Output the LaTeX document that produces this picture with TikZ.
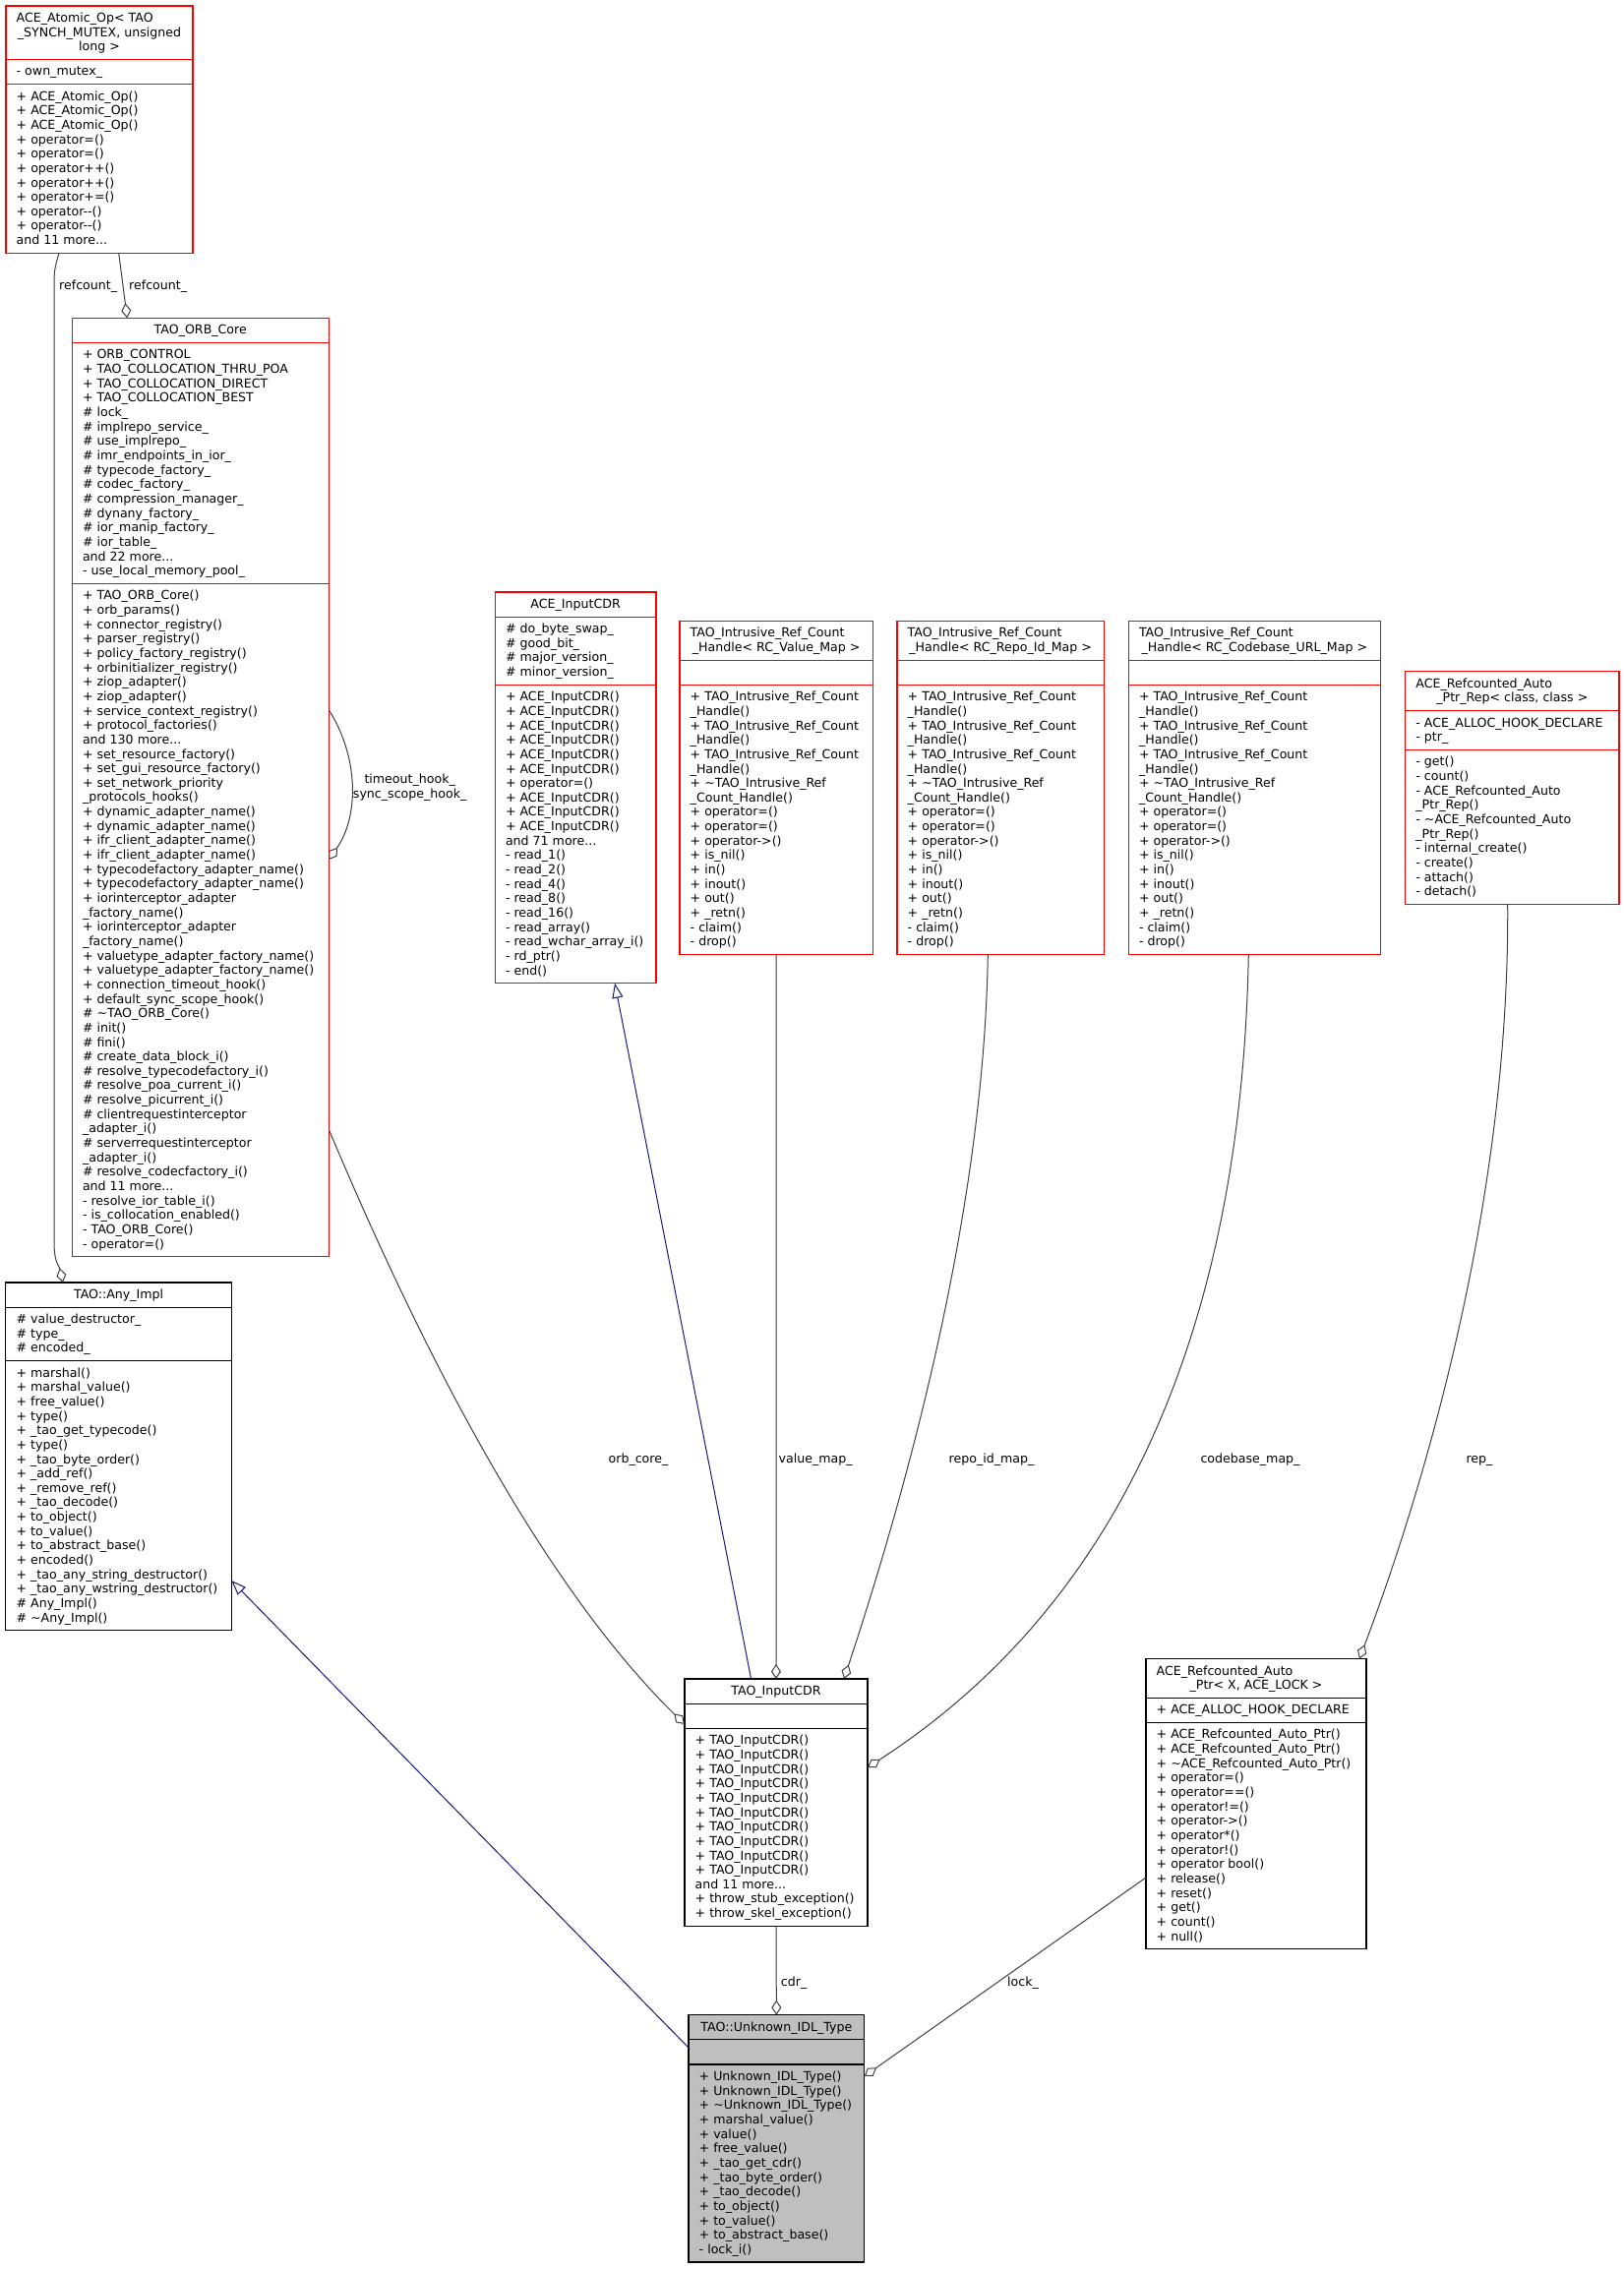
\documentclass[tikz,border=0pt]{standalone}
\usepackage{fontspec}
\setmainfont{DejaVu Sans}
\usetikzlibrary{arrows.meta}
\definecolor{edgegray}{HTML}{404040}
\definecolor{navyblue}{HTML}{191970}
\definecolor{unkfill}{HTML}{BFBFBF}
\newcommand\stt{\rule{0pt}{10pt}}
\newcommand\tl{\textasciitilde}
\tikzset{
  box/.style={draw, line width=1.1pt, inner sep=0pt, outer sep=0pt, anchor=north west, fill=white},
  redbox/.style={box, draw=red},
  blkbox/.style={box, draw=black},
  secline/.style={line width=1.1pt},
  sec/.style={anchor=north west, align=left, inner sep=0pt},
  ttl/.style={anchor=north, align=center, inner sep=0pt},
  agg/.style={draw=edgegray, line width=1pt, -{Diamond[open, length=15pt, width=10pt]}},
  inh/.style={draw=navyblue, line width=1pt, -{Triangle[open, length=15pt, width=11pt]}},
  lbl/.style={inner sep=0pt, anchor=base},
  lblw/.style={inner sep=0pt, anchor=base west},
}
\begin{document}
\begin{tikzpicture}[x=1pt, y=-1pt, font=\fontsize{12.6}{14.65}\selectfont]
\fill[white] (0,0) rectangle (1651,2307);
\useasboundingbox (0,0) rectangle (1651,2307);

% ---------- ACE_Atomic_Op ----------
\node[redbox, minimum width=190pt, minimum height=251.25pt] (atomic) at (6,6) {};
\draw[secline, red] (atomic.west |- 0,60.45) -- (atomic.east |- 0,60.45);
\draw[secline, red] (atomic.west |- 0,85.6) -- (atomic.east |- 0,85.6);
\node[sec] (atomic-t1) at (16.5,12.3) {\stt ACE\_Atomic\_Op< TAO};
\node[ttl] (atomic-t2) at (101,26.95) {\stt \_SYNCH\_MUTEX, unsigned\\long >};
\node[sec] (atomic-a) at (16.5,66.75) {\stt - own\_mutex\_};
\node[sec] (atomic-m) at (16.5,91.9) {\stt + ACE\_Atomic\_Op()\\+ ACE\_Atomic\_Op()\\+ ACE\_Atomic\_Op()\\+ operator=()\\+ operator=()\\+ operator++()\\+ operator++()\\+ operator+=()\\+ operator-{}-()\\+ operator-{}-()\\and 11 more...};

% ---------- TAO_ORB_Core ----------
\node[redbox, minimum width=261pt, minimum height=954.45pt] (orb) at (73.3,323.3) {};
\draw[secline, red] (orb.west |- 0,348.45) -- (orb.east |- 0,348.45);
\draw[secline, red] (orb.west |- 0,593.35) -- (orb.east |- 0,593.35);
\node[ttl] (orb-t) at (203.8,329.6) {\stt TAO\_ORB\_Core};
\node[sec] (orb-a) at (83.8,354.75) {\stt + ORB\_CONTROL\\+ TAO\_COLLOCATION\_THRU\_POA\\+ TAO\_COLLOCATION\_DIRECT\\+ TAO\_COLLOCATION\_BEST\\\# lock\_\\\# implrepo\_service\_\\\# use\_implrepo\_\\\# imr\_endpoints\_in\_ior\_\\\# typecode\_factory\_\\\# codec\_factory\_\\\# compression\_manager\_\\\# dynany\_factory\_\\\# ior\_manip\_factory\_\\\# ior\_table\_\\and 22 more...\\- use\_local\_memory\_pool\_};
\node[sec] (orb-m) at (83.8,599.65) {\stt + TAO\_ORB\_Core()\\+ orb\_params()\\+ connector\_registry()\\+ parser\_registry()\\+ policy\_factory\_registry()\\+ orbinitializer\_registry()\\+ ziop\_adapter()\\+ ziop\_adapter()\\+ service\_context\_registry()\\+ protocol\_factories()\\and 130 more...\\+ set\_resource\_factory()\\+ set\_gui\_resource\_factory()\\+ set\_network\_priority\\\_protocols\_hooks()\\+ dynamic\_adapter\_name()\\+ dynamic\_adapter\_name()\\+ ifr\_client\_adapter\_name()\\+ ifr\_client\_adapter\_name()\\+ typecodefactory\_adapter\_name()\\+ typecodefactory\_adapter\_name()\\+ iorinterceptor\_adapter\\\_factory\_name()\\+ iorinterceptor\_adapter\\\_factory\_name()\\+ valuetype\_adapter\_factory\_name()\\+ valuetype\_adapter\_factory\_name()\\+ connection\_timeout\_hook()\\+ default\_sync\_scope\_hook()\\\# \tl TAO\_ORB\_Core()\\\# init()\\\# fini()\\\# create\_data\_block\_i()\\\# resolve\_typecodefactory\_i()\\\# resolve\_poa\_current\_i()\\\# resolve\_picurrent\_i()\\\# clientrequestinterceptor\\\_adapter\_i()\\\# serverrequestinterceptor\\\_adapter\_i()\\\# resolve\_codecfactory\_i()\\and 11 more...\\- resolve\_ior\_table\_i()\\- is\_collocation\_enabled()\\- TAO\_ORB\_Core()\\- operator=()};

% ---------- ACE_InputCDR ----------
\node[redbox, minimum width=163.7pt, minimum height=397.75pt] (aceinput) at (503.3,602) {};
\draw[secline, red] (aceinput.west |- 0,627.15) -- (aceinput.east |- 0,627.15);
\draw[secline, red] (aceinput.west |- 0,696.25) -- (aceinput.east |- 0,696.25);
\node[ttl] (aceinput-t) at (585.15,608.3) {\stt ACE\_InputCDR};
\node[sec] (aceinput-a) at (513.8,633.45) {\stt \# do\_byte\_swap\_\\\# good\_bit\_\\\# major\_version\_\\\# minor\_version\_};
\node[sec] (aceinput-m) at (513.8,702.55) {\stt + ACE\_InputCDR()\\+ ACE\_InputCDR()\\+ ACE\_InputCDR()\\+ ACE\_InputCDR()\\+ ACE\_InputCDR()\\+ ACE\_InputCDR()\\+ operator=()\\+ ACE\_InputCDR()\\+ ACE\_InputCDR()\\+ ACE\_InputCDR()\\and 71 more...\\- read\_1()\\- read\_2()\\- read\_4()\\- read\_8()\\- read\_16()\\- read\_array()\\- read\_wchar\_array\_i()\\- rd\_ptr()\\- end()};

% ---------- TAO_Intrusive_Ref_Count_Handle< RC_Value_Map > ----------
\node[redbox, minimum width=196.3pt, minimum height=339.15pt] (value) at (691,631.3) {};
\draw[secline, red] (value.west |- 0,671.1) -- (value.east |- 0,671.1);
\draw[secline, red] (value.west |- 0,696.25) -- (value.east |- 0,696.25);
\node[sec] (value-t1) at (701.5,637.6) {\stt TAO\_Intrusive\_Ref\_Count};
\node[ttl] (value-t2) at (789.15,652.25) {\stt \_Handle< RC\_Value\_Map >};
\node[sec] (value-m) at (701.5,702.55) {\stt + TAO\_Intrusive\_Ref\_Count\\\_Handle()\\+ TAO\_Intrusive\_Ref\_Count\\\_Handle()\\+ TAO\_Intrusive\_Ref\_Count\\\_Handle()\\+ \tl TAO\_Intrusive\_Ref\\\_Count\_Handle()\\+ operator=()\\+ operator=()\\+ operator->()\\+ is\_nil()\\+ in()\\+ inout()\\+ out()\\+ \_retn()\\- claim()\\- drop()};

% ---------- TAO_Intrusive_Ref_Count_Handle< RC_Repo_Id_Map > ----------
\node[redbox, minimum width=210.3pt, minimum height=339.15pt] (repo) at (912,631.3) {};
\draw[secline, red] (repo.west |- 0,671.1) -- (repo.east |- 0,671.1);
\draw[secline, red] (repo.west |- 0,696.25) -- (repo.east |- 0,696.25);
\node[sec] (repo-t1) at (922.5,637.6) {\stt TAO\_Intrusive\_Ref\_Count};
\node[ttl] (repo-t2) at (1017.15,652.25) {\stt \_Handle< RC\_Repo\_Id\_Map >};
\node[sec] (repo-m) at (922.5,702.55) {\stt + TAO\_Intrusive\_Ref\_Count\\\_Handle()\\+ TAO\_Intrusive\_Ref\_Count\\\_Handle()\\+ TAO\_Intrusive\_Ref\_Count\\\_Handle()\\+ \tl TAO\_Intrusive\_Ref\\\_Count\_Handle()\\+ operator=()\\+ operator=()\\+ operator->()\\+ is\_nil()\\+ in()\\+ inout()\\+ out()\\+ \_retn()\\- claim()\\- drop()};

% ---------- TAO_Intrusive_Ref_Count_Handle< RC_Codebase_URL_Map > ----------
\node[redbox, minimum width=256pt, minimum height=339.15pt] (codebase) at (1147.3,631.3) {};
\draw[secline, red] (codebase.west |- 0,671.1) -- (codebase.east |- 0,671.1);
\draw[secline, red] (codebase.west |- 0,696.25) -- (codebase.east |- 0,696.25);
\node[sec] (codebase-t1) at (1157.8,637.6) {\stt TAO\_Intrusive\_Ref\_Count};
\node[ttl] (codebase-t2) at (1275.3,652.25) {\stt \_Handle< RC\_Codebase\_URL\_Map >};
\node[sec] (codebase-m) at (1157.8,702.55) {\stt + TAO\_Intrusive\_Ref\_Count\\\_Handle()\\+ TAO\_Intrusive\_Ref\_Count\\\_Handle()\\+ TAO\_Intrusive\_Ref\_Count\\\_Handle()\\+ \tl TAO\_Intrusive\_Ref\\\_Count\_Handle()\\+ operator=()\\+ operator=()\\+ operator->()\\+ is\_nil()\\+ in()\\+ inout()\\+ out()\\+ \_retn()\\- claim()\\- drop()};

% ---------- ACE_Refcounted_Auto_Ptr_Rep ----------
\node[redbox, minimum width=217.3pt, minimum height=236.6pt] (rep) at (1428.7,682.7) {};
\draw[secline, red] (rep.west |- 0,722.5) -- (rep.east |- 0,722.5);
\draw[secline, red] (rep.west |- 0,762.3) -- (rep.east |- 0,762.3);
\node[sec] (rep-t1) at (1439.2,689) {\stt ACE\_Refcounted\_Auto};
\node[ttl] (rep-t2) at (1537.35,703.65) {\stt \_Ptr\_Rep< class, class >};
\node[sec] (rep-a) at (1439.2,728.8) {\stt - ACE\_ALLOC\_HOOK\_DECLARE\\- ptr\_};
\node[sec] (rep-m) at (1439.2,768.6) {\stt - get()\\- count()\\- ACE\_Refcounted\_Auto\\\_Ptr\_Rep()\\- \tl ACE\_Refcounted\_Auto\\\_Ptr\_Rep()\\- internal\_create()\\- create()\\- attach()\\- detach()};

% ---------- TAO::Any_Impl ----------
\node[blkbox, minimum width=229.4pt, minimum height=353.8pt] (anyimpl) at (5.9,1304) {};
\draw[secline] (anyimpl.west |- 0,1329.15) -- (anyimpl.east |- 0,1329.15);
\draw[secline] (anyimpl.west |- 0,1383.6) -- (anyimpl.east |- 0,1383.6);
\node[ttl] (anyimpl-t) at (120.6,1310.3) {\stt TAO::Any\_Impl};
\node[sec] (anyimpl-a) at (16.4,1335.45) {\stt \# value\_destructor\_\\\# type\_\\\# encoded\_};
\node[sec] (anyimpl-m) at (16.4,1389.9) {\stt + marshal()\\+ marshal\_value()\\+ free\_value()\\+ type()\\+ \_tao\_get\_typecode()\\+ type()\\+ \_tao\_byte\_order()\\+ \_add\_ref()\\+ \_remove\_ref()\\+ \_tao\_decode()\\+ to\_object()\\+ to\_value()\\+ to\_abstract\_base()\\+ encoded()\\+ \_tao\_any\_string\_destructor()\\+ \_tao\_any\_wstring\_destructor()\\\# Any\_Impl()\\\# \tl Any\_Impl()};

% ---------- TAO_InputCDR ----------
\node[blkbox, minimum width=186pt, minimum height=251.25pt] (tcdr) at (696,1707) {};
\draw[secline] (tcdr.west |- 0,1732.15) -- (tcdr.east |- 0,1732.15);
\draw[secline] (tcdr.west |- 0,1757.3) -- (tcdr.east |- 0,1757.3);
\node[ttl] (tcdr-t) at (789,1713.3) {\stt TAO\_InputCDR};
\node[sec] (tcdr-m) at (706.5,1763.6) {\stt + TAO\_InputCDR()\\+ TAO\_InputCDR()\\+ TAO\_InputCDR()\\+ TAO\_InputCDR()\\+ TAO\_InputCDR()\\+ TAO\_InputCDR()\\+ TAO\_InputCDR()\\+ TAO\_InputCDR()\\+ TAO\_InputCDR()\\+ TAO\_InputCDR()\\and 11 more...\\+ throw\_stub\_exception()\\+ throw\_skel\_exception()};

% ---------- ACE_Refcounted_Auto_Ptr ----------
\node[blkbox, minimum width=224pt, minimum height=295.2pt] (autoptr) at (1165,1686.5) {};
\draw[secline] (autoptr.west |- 0,1726.3) -- (autoptr.east |- 0,1726.3);
\draw[secline] (autoptr.west |- 0,1751.45) -- (autoptr.east |- 0,1751.45);
\node[sec] (autoptr-t1) at (1175.5,1692.8) {\stt ACE\_Refcounted\_Auto};
\node[ttl] (autoptr-t2) at (1277,1707.45) {\stt \_Ptr< X, ACE\_LOCK >};
\node[sec] (autoptr-a) at (1175.5,1732.6) {\stt + ACE\_ALLOC\_HOOK\_DECLARE};
\node[sec] (autoptr-m) at (1175.5,1757.75) {\stt + ACE\_Refcounted\_Auto\_Ptr()\\+ ACE\_Refcounted\_Auto\_Ptr()\\+ \tl ACE\_Refcounted\_Auto\_Ptr()\\+ operator=()\\+ operator==()\\+ operator!=()\\+ operator->()\\+ operator*()\\+ operator!()\\+ operator bool()\\+ release()\\+ reset()\\+ get()\\+ count()\\+ null()};

% ---------- TAO::Unknown_IDL_Type ----------
\node[blkbox, fill=unkfill, minimum width=178.7pt, minimum height=251.25pt] (unk) at (700,2048.7) {};
\draw[secline] (unk.west |- 0,2073.85) -- (unk.east |- 0,2073.85);
\draw[secline] (unk.west |- 0,2099) -- (unk.east |- 0,2099);
\node[ttl] (unk-t) at (789.35,2055) {\stt TAO::Unknown\_IDL\_Type};
\node[sec] (unk-m) at (710.5,2105.3) {\stt + Unknown\_IDL\_Type()\\+ Unknown\_IDL\_Type()\\+ \tl Unknown\_IDL\_Type()\\+ marshal\_value()\\+ value()\\+ free\_value()\\+ \_tao\_get\_cdr()\\+ \_tao\_byte\_order()\\+ \_tao\_decode()\\+ to\_object()\\+ to\_value()\\+ to\_abstract\_base()\\- lock\_i()};

% ---------- connectors ----------
\draw[agg] (60,0 |- atomic.south) .. controls (55,275) .. (55,295) -- (55,1262) .. controls (55,1285) and (60,1286) .. (64,0 |- anyimpl.north);
\draw[agg] (120.7,0 |- atomic.south) -- (129.3,0 |- orb.north);
\draw[agg] (orb.east |- 0,721.7) .. controls (365,770) and (365,830) .. (orb.east |- 0,874);
\draw[agg] (orb.east |- 0,1148.3) .. controls (440,1400) and (560,1620) .. (tcdr.west |- 0,1753);
\draw[inh] (763.6,0 |- tcdr.north) -- (625,0 |- aceinput.south);
\draw[agg] (value.south) -- (tcdr.north);
\draw[agg] (1004.3,0 |- repo.south) .. controls (1000,1250) and (910,1550) .. (858,0 |- tcdr.north);
\draw[agg] (1269.3,0 |- codebase.south) .. controls (1262,1350) and (1140,1630) .. (tcdr.east |- 0,1797);
\draw[agg] (1532.7,0 |- rep.south) .. controls (1535,1250) and (1430,1560) .. (1382,0 |- autoptr.north);
\draw[agg] (autoptr.west |- 0,1909) -- (unk.east |- 0,2111);
\draw[agg] (tcdr.south) -- (unk.north);
\draw[inh] (unk.west |- 0,2082) -- (anyimpl.east |- 0,1607);

% ---------- connector labels ----------
\node[lblw] (l-refcount1) at (60,294) {refcount\_};
\node[lblw] (l-refcount2) at (131,294) {refcount\_};
\node[ttl] (l-hooks) at (416.7,786.3) {\stt timeout\_hook\_\\sync\_scope\_hook\_};
\node[lbl] (l-orbcore) at (649,1487) {orb\_core\_};
\node[lblw] (l-value) at (791.5,1487) {value\_map\_};
\node[lbl] (l-repo) at (1008,1487) {repo\_id\_map\_};
\node[lbl] (l-codebase) at (1271,1487) {codebase\_map\_};
\node[lbl] (l-rep) at (1504,1487) {rep\_};
\node[lblw] (l-cdr) at (793.7,2019) {cdr\_};
\node[lbl] (l-lock) at (1040,2019) {lock\_};
\end{tikzpicture}
\end{document}
